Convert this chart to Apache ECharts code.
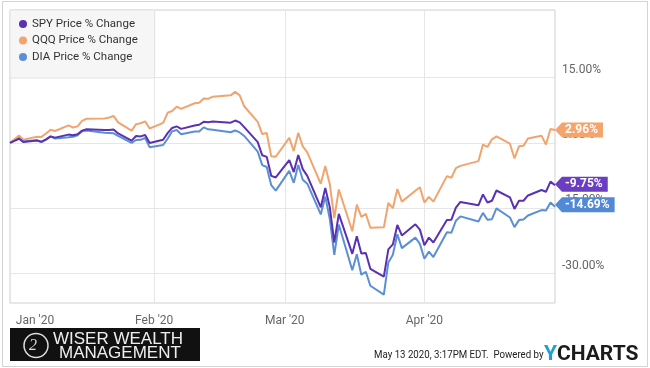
<!DOCTYPE html>
<html><head><meta charset="utf-8">
<script src="https://cdn.jsdelivr.net/npm/echarts@6/dist/echarts.min.js"></script>
<style>html,body{margin:0;padding:0;background:#fff}#c{width:650px;height:368px}</style>
</head><body><div id="c"></div>
<script>
const dates = ['2019-12-31',
 '2020-01-02','2020-01-03','2020-01-06','2020-01-07','2020-01-08','2020-01-09','2020-01-10','2020-01-13','2020-01-14','2020-01-15','2020-01-16','2020-01-17','2020-01-21','2020-01-22','2020-01-23','2020-01-24','2020-01-27','2020-01-28','2020-01-29','2020-01-30','2020-01-31',
 '2020-02-03','2020-02-04','2020-02-05','2020-02-06','2020-02-07','2020-02-10','2020-02-11','2020-02-12','2020-02-13','2020-02-14','2020-02-18','2020-02-19','2020-02-20','2020-02-21','2020-02-24','2020-02-25','2020-02-26','2020-02-27','2020-02-28',
 '2020-03-02','2020-03-03','2020-03-04','2020-03-05','2020-03-06','2020-03-09','2020-03-10','2020-03-11','2020-03-12','2020-03-13','2020-03-16','2020-03-17','2020-03-18','2020-03-19','2020-03-20','2020-03-23','2020-03-24','2020-03-25','2020-03-26','2020-03-27','2020-03-30','2020-03-31',
 '2020-04-01','2020-04-02','2020-04-03','2020-04-06','2020-04-07','2020-04-08','2020-04-09','2020-04-13','2020-04-14','2020-04-15','2020-04-16','2020-04-17','2020-04-20','2020-04-21','2020-04-22','2020-04-23','2020-04-24','2020-04-27','2020-04-28','2020-04-29','2020-04-30'];

const spy = [0,
 0.94,0.17,0.55,0.27,0.80,1.49,1.20,1.89,1.74,1.97,2.81,3.13,2.93,2.95,3.06,2.15,0.51,1.56,1.48,1.81,-0.04,
 0.70,2.24,3.42,3.77,3.21,3.98,4.16,4.83,4.72,4.89,4.62,5.12,4.69,3.61,0.17,-2.86,-3.22,-7.57,-7.95,
 -3.97,-6.72,-2.80,-6.03,-7.58,-14.80,-10.39,-14.76,-22.91,-16.32,-25.48,-21.46,-25.43,-25.27,-28.91,-30.73,-24.45,-23.32,-18.85,-21.26,-18.71,-19.92,
 -23.52,-21.76,-22.89,-17.71,-17.63,-14.86,-13.56,-14.35,-11.83,-13.70,-13.29,-10.94,-12.51,-15.17,-13.29,-13.29,-12.08,-10.82,-11.23,-8.90,-9.75];

const qqq = [0,
 1.67,0.74,1.39,1.37,2.14,3.00,2.73,4.02,3.52,3.78,5.06,5.53,5.59,5.82,6.20,4.69,2.80,4.29,4.49,4.94,3.30,
 4.58,6.90,7.30,8.30,7.80,9.10,9.20,10.20,10.10,10.60,10.90,11.70,10.90,8.40,4.81,2.01,2.25,-3.10,-3.20,
 1.14,-1.90,2.30,-0.80,-2.20,-9.40,-5.30,-9.50,-17.30,-10.70,-20.30,-14.20,-17.00,-16.30,-19.50,-19.40,-13.80,-15.00,-10.60,-13.50,-11.00,-10.20,
 -13.70,-12.40,-13.50,-7.64,-8.02,-5.79,-5.29,-4.20,-0.40,-0.95,0.80,1.50,-0.19,-3.60,-0.80,-0.66,1.02,1.65,-0.40,3.16,2.96];

const dia = [0,
 1.16,0.34,0.58,0.16,0.72,1.47,1.00,1.29,1.41,1.72,2.66,2.84,2.30,2.27,2.18,1.58,-0.01,0.65,0.69,1.12,-0.99,
 -0.49,0.94,2.64,2.95,1.98,2.59,2.59,3.55,3.10,3.01,2.43,2.84,2.39,1.59,-2.02,-5.11,-5.54,-9.71,-10.96,
 -6.43,-9.18,-5.07,-8.47,-9.37,-16.43,-12.34,-17.47,-25.71,-18.76,-29.26,-25.58,-30.27,-29.61,-32.81,-34.85,-27.45,-25.71,-20.98,-24.18,-21.76,-23.20,
 -26.61,-24.97,-26.23,-20.53,-20.62,-17.89,-16.89,-18.04,-16.08,-17.64,-17.52,-15.05,-17.13,-19.34,-17.74,-17.60,-16.69,-15.43,-15.55,-13.68,-14.69];

const seriesNames = ['SPY Price % Change', 'QQQ Price % Change', 'DIA Price % Change'];
const lineColors = ['#5a30b5', '#f1a46e', '#5b8fd3'];
const tagColors = ['#6a3dc2', '#f4a46c', '#5289d6'];
const tagShift = [-1, 0, -2];
const yTicks = [-30, -15, 0, 15];
const xGridDates = ['2020-02-01', '2020-03-01', '2020-04-01'];
const xLabelDates = ['2020-01-01', '2020-02-01', '2020-03-01', '2020-04-01'];
const xLabelTexts = ["Jan '20", "Feb '20", "Mar '20", "Apr '20"];
const footerStamp = 'May 13 2020, 3:17PM EDT.  Powered by';
const logoLines = ['WISER WEALTH', 'MANAGEMENT'];

const chart = echarts.init(document.getElementById('c'), null, {renderer: 'canvas'});
const ts = d => Date.parse(d);
const pairs = arr => arr.map((v, i) => [ts(dates[i]), v]);
const seriesData = [spy, qqq, dia];
const last = dates.length - 1;

const lineSeries = [2, 1, 0].map(k => ({
  name: seriesNames[k], type: 'line', data: pairs(seriesData[k]),
  showSymbol: false, symbol: 'none', smooth: false,
  lineStyle: {color: lineColors[k], width: 2}, itemStyle: {color: lineColors[k]},
  z: 3 + (2 - k), silent: true, animation: false
}));
const tagSeries = [0, 1, 2].map(k => ({
  name: 'tag' + k, type: 'scatter', clip: false, silent: true, animation: false,
  zlevel: 1, z: 10,
  data: [[ts(dates[last]), seriesData[k][last]]],
  symbol: 'path://M0,5L5,0L5,10Z', symbolSize: [7, 15], symbolOffset: [3.5, tagShift[k]],
  itemStyle: {color: tagColors[k], opacity: 1},
  label: {show: true, position: 'right', distance: 0, offset: [0, tagShift[k]],
    formatter: p => p.value[1].toFixed(2) + '%',
    backgroundColor: tagColors[k], color: '#fff', fontWeight: 'bold',
    fontFamily: 'Roboto', fontSize: 12, lineHeight: 13, padding: [1, 5, 1, 3]},
  labelLayout: {hideOverlap: false}
}));

chart.setOption({
  animation: false,
  backgroundColor: '#fff',
  grid: {left: 10, right: 95, top: 10, bottom: 65, show: true, borderColor: '#cfcfcf', borderWidth: 1, backgroundColor: '#fff'},
  legend: {
    data: seriesNames, orient: 'vertical', left: 10, top: 10,
    padding: [7, 17, 14, 9], itemGap: 2.5, itemWidth: 8, itemHeight: 8, icon: 'circle',
    backgroundColor: '#f6f6f6', borderColor: '#e2e2e2', borderWidth: 1,
    textStyle: {fontFamily: 'Roboto', fontSize: 11.5, color: '#333', lineHeight: 14},
    selectedMode: false
  },
  xAxis: {
    type: 'value', min: ts(dates[0]), max: ts(dates[last]),
    axisLine: {show: false}, axisTick: {show: false, customValues: xGridDates.map(ts)},
    splitLine: {show: true, lineStyle: {color: '#e6e6e6', width: 1}},
    axisLabel: {
      customValues: xLabelDates.map(ts), margin: 12, color: '#666', fontFamily: 'Roboto', fontSize: 12,
      formatter: v => {
        const m = new Date(v).getUTCMonth();
        return m === 0 ? '{j|' + xLabelTexts[0] + '}' : xLabelTexts[m];
      },
      rich: {j: {padding: [0, 0, 0, 41], color: '#666', fontFamily: 'Roboto', fontSize: 12}}
    }
  },
  yAxis: {
    type: 'value', position: 'right', min: -36.77, max: 30.5,
    axisLine: {show: false}, axisTick: {show: false, customValues: yTicks},
    splitLine: {show: true, lineStyle: {color: '#e6e6e6', width: 1}},
    axisLabel: {customValues: yTicks, margin: 7, color: '#666', fontFamily: 'Roboto', fontSize: 12,
      verticalAlign: 'bottom', padding: [0, 0, 2, 0],
      formatter: v => v.toFixed(2) + '%'}
  },
  series: lineSeries.concat(tagSeries),
  graphic: [
    {type: 'rect', silent: true, shape: {x: 2.5, y: 1.5, width: 645, height: 365}, style: {fill: 'none', stroke: '#d4d4d4', lineWidth: 1}},
    {type: 'rect', silent: true, shape: {x: 10, y: 328, width: 190, height: 33}, style: {fill: '#111'}},
    {type: 'circle', silent: true, shape: {cx: 36, cy: 345.5, r: 12}, style: {fill: 'none', stroke: '#ddd', lineWidth: 1.5}},
    {type: 'text', silent: true, x: 33, y: 346, style: {text: '2', fill: '#ddd', font: 'italic 16px "Liberation Serif"', align: 'center', verticalAlign: 'middle'}},
    {type: 'text', silent: true, x: 53, y: 339.5, style: {text: logoLines[0], fill: '#eee', font: '17px "Liberation Sans"', align: 'left', verticalAlign: 'middle'}},
    {type: 'text', silent: true, x: 59, y: 353.5, style: {text: logoLines[1], fill: '#eee', font: '17px "Liberation Sans"', align: 'left', verticalAlign: 'middle'}},
    {type: 'text', silent: true, x: 374, y: 355, scaleX: 0.88, style: {text: footerStamp, fill: '#222', font: '11px Roboto', align: 'left', verticalAlign: 'middle'}},
    {type: 'text', silent: true, x: 544, y: 355, style: {text: '{y|Y}{c|CHARTS}', align: 'left', verticalAlign: 'middle',
      rich: {y: {fill: '#1e9fd6', font: 'bold 21px Roboto'}, c: {fill: '#1b1b1b', font: 'bold 21px Roboto'}}}}
  ]
});
</script>
</body></html>
